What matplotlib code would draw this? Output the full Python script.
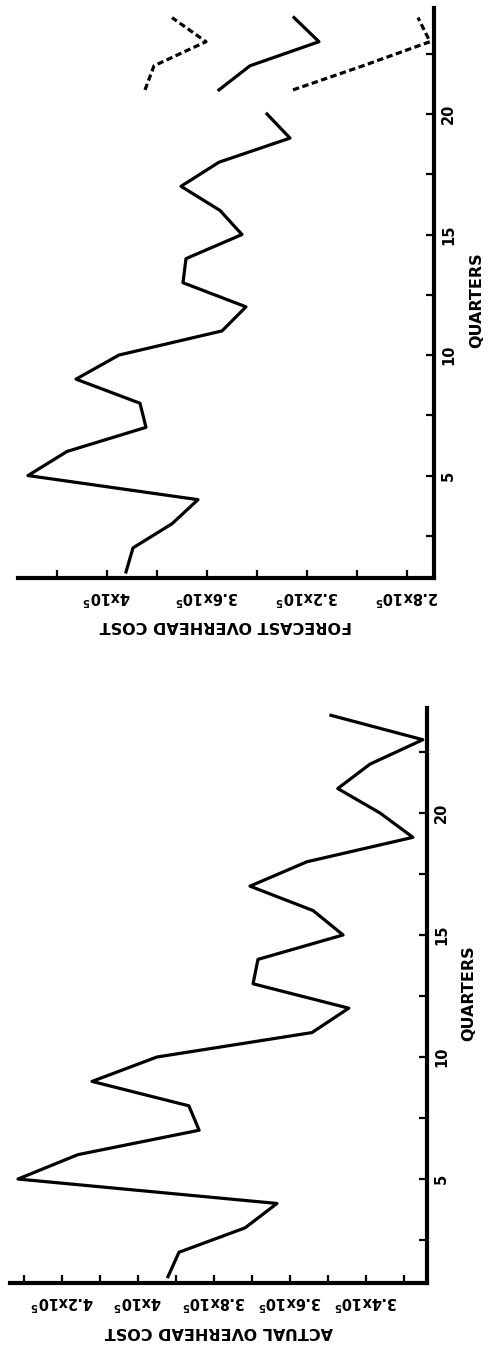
import matplotlib
matplotlib.use('Agg')
from matplotlib import pyplot as plt
from matplotlib.ticker import FixedLocator, FuncFormatter
import numpy as np

plt.rcParams['mathtext.default'] = 'bf'

# cost values are in units of 10^5
quarters = np.arange(1, 25)
actual_cost = [3.921, 3.892, 3.718, 3.634, 4.316, 4.158, 3.839, 3.866,
               4.121, 3.950, 3.542, 3.445, 3.697, 3.684, 3.460, 3.539,
               3.705, 3.555, 3.276, 3.363, 3.474, 3.389, 3.250, 3.492]

fit_quarters = np.arange(1, 21)
forecast_fit = [3.924, 3.896, 3.740, 3.636, 4.316, 4.160, 3.844, 3.868,
                4.124, 3.952, 3.540, 3.444, 3.696, 3.684, 3.460, 3.548,
                3.704, 3.552, 3.268, 3.360]

ahead_quarters = [21, 22, 23, 24]
forecast_ahead = [3.552, 3.428, 3.152, 3.252]
forecast_upper = [3.848, 3.812, 3.604, 3.740]
forecast_lower = [3.256, 2.976, 2.708, 2.756]

forecast_ticks = [2.8, 3.2, 3.6, 4.0]
forecast_minor = [3.0, 3.4, 3.8, 4.2]
actual_ticks = [3.4, 3.6, 3.8, 4.0, 4.2]
actual_minor = [3.3, 3.5, 3.7, 3.9, 4.1, 4.3]
quarter_ticks = [5, 10, 15, 20]
quarter_minor = [2.5, 7.5, 12.5, 17.5, 22.5]

E5 = 1e5


def CostLabel(v, pos):
    return '{:g}x10$^5$'.format(round(v / E5, 1))


def SetupAxis(ax, xlim, ylim, major, minor, xlabel, xl_y, yl_x, yl_y):
    ax.set_xlim(xlim[0] * E5, xlim[1] * E5)
    ax.set_ylim(ylim)
    for s in ['left', 'top']:
        ax.spines[s].set_visible(False)
    for s in ['right', 'bottom']:
        ax.spines[s].set_linewidth(3)
        ax.spines[s].set_capstyle('projecting')
    ax.xaxis.set_major_locator(FixedLocator([v * E5 for v in major]))
    ax.xaxis.set_minor_locator(FixedLocator([v * E5 for v in minor]))
    ax.xaxis.set_major_formatter(FuncFormatter(CostLabel))
    ax.yaxis.tick_right()
    ax.yaxis.set_major_locator(FixedLocator(quarter_ticks))
    ax.yaxis.set_minor_locator(FixedLocator(quarter_minor))
    ax.tick_params(which='both', direction='in', length=6, width=1.6)
    ax.tick_params(axis='x', labelrotation=180, pad=7, labelsize=10.5)
    ax.tick_params(axis='y', labelrotation=90, pad=5, labelsize=10.5)
    plt.setp(ax.get_xticklabels(), fontweight='bold')
    plt.setp(ax.get_yticklabels(), fontweight='bold', va='center')
    ax.set_xlabel(xlabel, rotation=180, fontsize=11.5, fontweight='bold',
                  va='center', ha='center')
    ax.xaxis.set_label_coords(0.5, xl_y)
    ax.yaxis.set_label_position('right')
    ax.set_ylabel('QUARTERS', rotation=90, fontsize=11.5, fontweight='bold',
                  va='center', ha='center')
    ax.yaxis.set_label_coords(yl_x, yl_y)


fig = plt.figure(figsize=(4.89, 13.47), dpi=100)

# forecast panel (upper)
ax1 = fig.add_axes([0.0368, 0.5709, 0.8507, 0.4232])
SetupAxis(ax1, (4.356, 2.692), (0.75, 24.4), forecast_ticks, forecast_minor,
          'FORECAST OVERHEAD COST', -0.0825, 1.103, 0.488)
ax1.plot(np.array(forecast_fit) * E5, fit_quarters, 'k-', lw=2.3)
ax1.plot(np.array(forecast_ahead) * E5, ahead_quarters, 'k-', lw=2.3)
ax1.plot(np.array(forecast_upper) * E5, ahead_quarters, 'k', lw=2.3,
         linestyle=(0, (2.0, 1.1)))
ax1.plot(np.array(forecast_lower) * E5, ahead_quarters, 'k', lw=2.3,
         linestyle=(0, (2.0, 1.1)))

# actual panel (lower)
ax2 = fig.add_axes([0.0204, 0.0475, 0.8528, 0.4269])
SetupAxis(ax2, (4.337, 3.239), (0.74, 24.3), actual_ticks, actual_minor,
          'ACTUAL OVERHEAD COST', -0.0835, 1.101, 0.504)
ax2.plot(np.array(actual_cost) * E5, quarters, 'k-', lw=2.3)

plt.savefig('out.png', dpi=100)
